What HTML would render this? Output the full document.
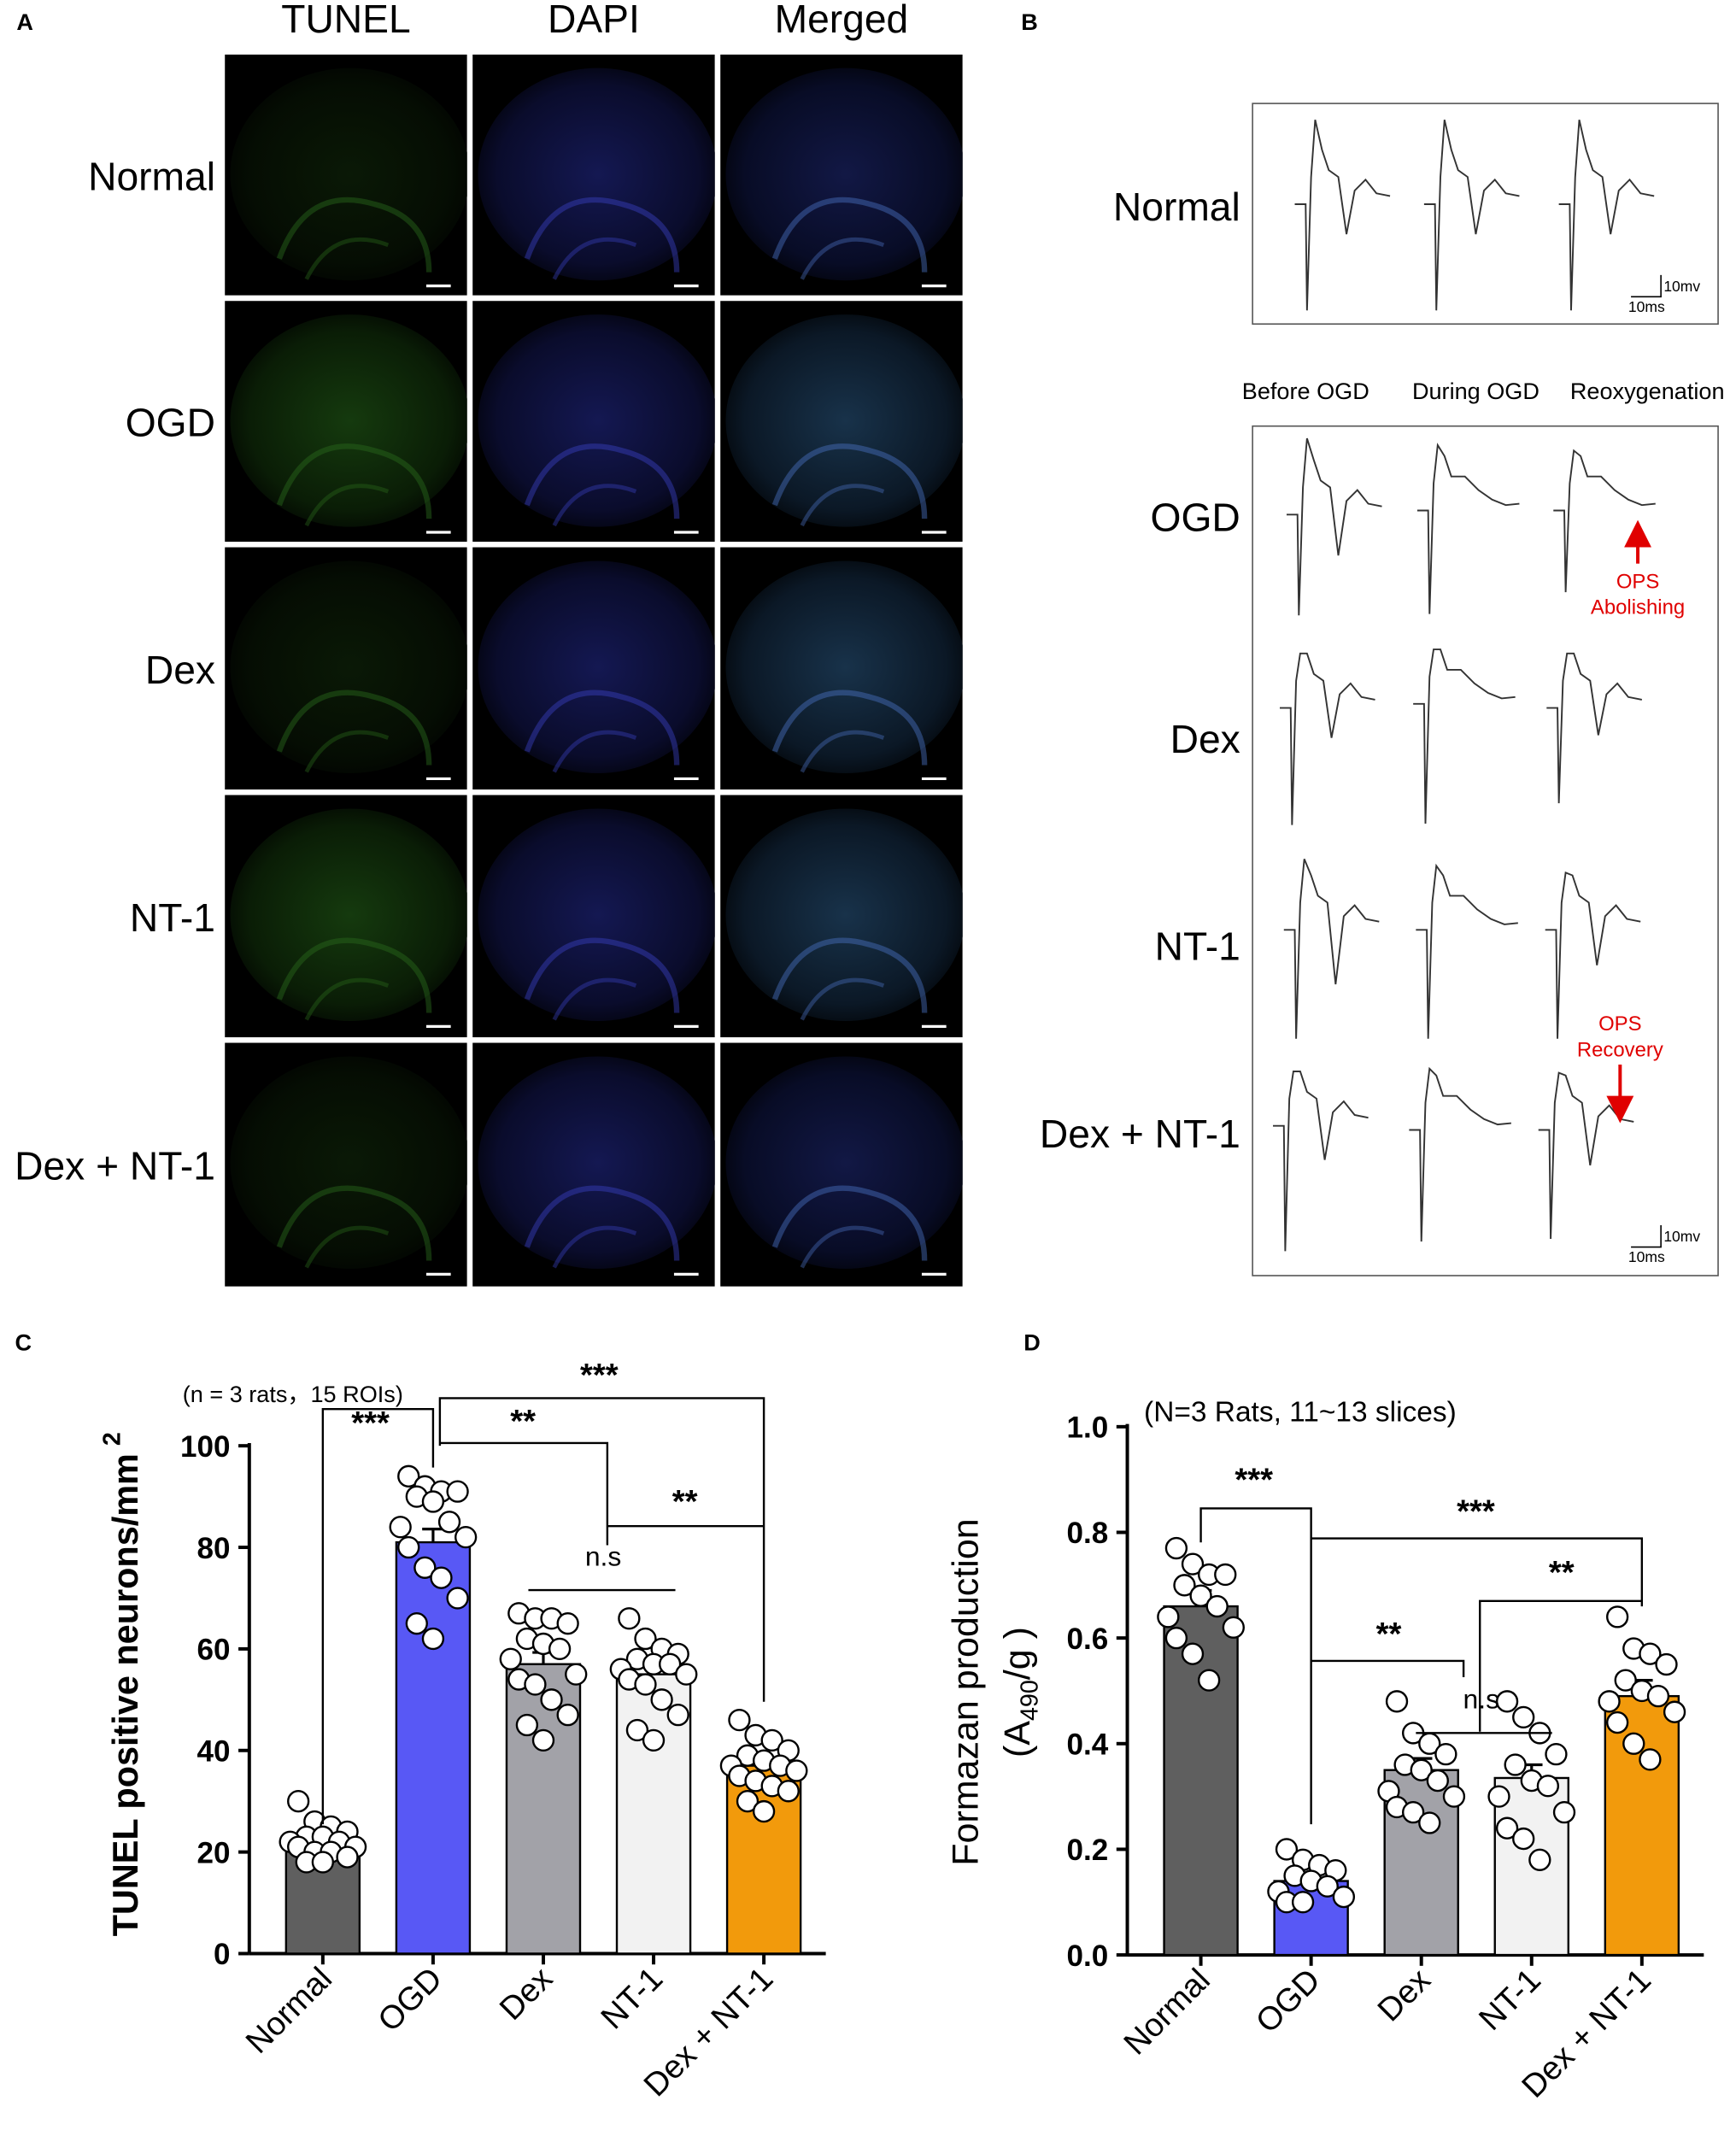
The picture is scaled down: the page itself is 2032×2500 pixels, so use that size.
<!DOCTYPE html>
<html><head><meta charset="utf-8">
<style>
html,body{margin:0;padding:0;background:#fff;}
svg{display:block;}
text{font-family:"Liberation Sans",Arial,sans-serif;}
</style></head>
<body>
<svg id="fig" width="2032" height="2500" viewBox="0 0 1275 1569" xmlns="http://www.w3.org/2000/svg">
<defs>
<radialGradient id="gG" cx="50%" cy="50%" r="60%"><stop offset="0" stop-color="#153a0e"/><stop offset="0.7" stop-color="#0a1d06"/><stop offset="1" stop-color="#000"/></radialGradient>
<radialGradient id="gGd" cx="50%" cy="50%" r="60%"><stop offset="0" stop-color="#0a1906"/><stop offset="0.7" stop-color="#050d03"/><stop offset="1" stop-color="#000"/></radialGradient>
<radialGradient id="gB" cx="50%" cy="50%" r="60%"><stop offset="0" stop-color="#141852"/><stop offset="0.7" stop-color="#0a0c2c"/><stop offset="1" stop-color="#000"/></radialGradient>
<radialGradient id="gM" cx="50%" cy="50%" r="60%"><stop offset="0" stop-color="#18324a"/><stop offset="0.7" stop-color="#0b1826"/><stop offset="1" stop-color="#000"/></radialGradient>
<radialGradient id="gMd" cx="50%" cy="50%" r="60%"><stop offset="0" stop-color="#121845"/><stop offset="0.7" stop-color="#080c26"/><stop offset="1" stop-color="#000"/></radialGradient>
<marker id="arr" markerWidth="8" markerHeight="8" refX="4" refY="4" orient="auto"><path d="M0,0 L8,4 L0,8 z" fill="#e00000"/></marker>
</defs>
<g id="panelA"></g>
<g id="panelB"></g>
<g id="panelC"></g>
<g id="panelD"></g>
</svg>
<script>
// ---------- Data: panel C ----------
const cCategories = ["Normal","OGD","Dex","NT-1","Dex + NT-1"];
const cMeans = [22, 81, 57, 55, 37];
const cErrors = [1.2, 2.6, 2.3, 1.8, 1.6];
const cPointsNormal = [30,26,25,24,23,23,22,22,21,21,20,20,19,18,18];
const cPointsOGD = [94,92,91,91,90,89,85,84,82,80,76,74,70,65,62];
const cPointsDex = [67,66,66,65,62,61,60,58,55,54,53,50,47,45,42];
const cPointsNT1 = [66,62,60,59,58,57,57,56,55,54,53,50,47,44,42];
const cPointsDN = [46,43,42,40,39,38,37,37,36,35,34,33,32,30,28];
const cYTicks = [0,20,40,60,80,100];
// ---------- Data: panel D ----------
const dCategories = ["Normal","OGD","Dex","NT-1","Dex + NT-1"];
const dMeans = [0.66, 0.14, 0.35, 0.335, 0.49];
const dErrors = [0.03, 0.012, 0.022, 0.025, 0.03];
const dPointsNormal = [0.77,0.74,0.72,0.72,0.70,0.68,0.66,0.64,0.62,0.60,0.57,0.52];
const dPointsOGD = [0.20,0.18,0.17,0.16,0.15,0.14,0.13,0.12,0.11,0.10,0.10];
const dPointsDex = [0.48,0.42,0.40,0.38,0.36,0.35,0.33,0.31,0.30,0.28,0.27,0.25];
const dPointsNT1 = [0.48,0.45,0.42,0.38,0.36,0.33,0.32,0.30,0.27,0.24,0.22,0.18];
const dPointsDN = [0.64,0.58,0.57,0.55,0.52,0.50,0.49,0.48,0.46,0.44,0.40,0.37];
const dYTicks = [0.0,0.2,0.4,0.6,0.8,1.0];

const NS="http://www.w3.org/2000/svg";
function mk(parent,tag,attrs,txt){const e=document.createElementNS(NS,tag);for(const k in attrs)e.setAttribute(k,attrs[k]);if(txt!==undefined)e.textContent=txt;parent.appendChild(e);return e;}

// ---------- Panel A ----------
const A=document.getElementById('panelA');
const defs=document.querySelector('defs');
let t=mk(A,'text',{x:12,y:22,'font-size':17,'font-weight':'bold'},'A');


const colX=[165,347,529], colW=178;
const rowY=[40,221,402,584,766], rowH=[177,177,178,178,179];
const colTitles=["TUNEL","DAPI","Merged"];
colTitles.forEach((c,i)=>{const e=mk(A,'text',{x:colX[i]+89,y:24,'font-size':29,'text-anchor':'middle'},c);

});
const rowNames=["Normal","OGD","Dex","NT-1","Dex + NT-1"];
const fills=[["gGd","gB","gMd"],["gG","gB","gM"],["gGd","gB","gM"],["gG","gB","gM"],["gGd","gB","gMd"]];
rowNames.forEach((r,j)=>{
 const e=mk(A,'text',{x:158,y:rowY[j]+rowH[j]/2+11,'font-size':29,'text-anchor':'end'},r);
 
 
 colX.forEach((x,i)=>{
  const cp=mk(defs,'clipPath',{id:'cp'+j+'_'+i});
  mk(cp,'rect',{x:x,y:rowY[j],width:colW,height:rowH[j]});
  const g=mk(A,'g',{'clip-path':'url(#cp'+j+'_'+i+')'});
  
  
  mk(g,'rect',{x:x,y:rowY[j],width:colW,height:rowH[j],fill:'#000'});
  mk(g,'ellipse',{cx:x+92,cy:rowY[j]+88,rx:88,ry:78,fill:'url(#'+fills[j][i]+')'});
  const col=i==0?'#2a6a1c':(i==1?'#3a40c0':'#4a70c0');
  mk(g,'path',{d:`M${x+40},${rowY[j]+150} Q${x+60},${rowY[j]+95} ${x+110},${rowY[j]+110} Q${x+150},${rowY[j]+120} ${x+150},${rowY[j]+160}`,fill:'none',stroke:col,'stroke-width':4,opacity:0.45});
  mk(g,'path',{d:`M${x+60},${rowY[j]+165} Q${x+80},${rowY[j]+125} ${x+120},${rowY[j]+140}`,fill:'none',stroke:col,'stroke-width':3,opacity:0.4});
  mk(g,'line',{x1:x+148,y1:rowY[j]+170,x2:x+166,y2:rowY[j]+170,stroke:'#fff','stroke-width':2});
 });
});

// ---------- Panel B ----------
const B=document.getElementById('panelB');
t=mk(B,'text',{x:750,y:22,'font-size':17,'font-weight':'bold'},'B');


t=mk(B,'rect',{x:920,y:76,width:342,height:162,fill:'none',stroke:'#555','stroke-width':1});


t=mk(B,'rect',{x:920,y:313,width:342,height:624,fill:'none',stroke:'#555','stroke-width':1});


[["Before OGD",959],["During OGD",1084],["Reoxygenation",1210]].forEach((p,i)=>{
 const e=mk(B,'text',{x:p[1],y:293,'font-size':17,'text-anchor':'middle'},p[0]);
 
 });
[["Normal",911,162],["OGD",911,390],["Dex",911,553],["NT-1",911,705],["Dex + NT-1",911,843]].forEach((p,i)=>{
 const e=mk(B,'text',{x:p[1],y:p[2],'font-size':29,'text-anchor':'end'},p[0]);
 
 });
function trace(x0,yb,opts){
 const pop=opts.pop, top=opts.top||60, bot=opts.bot||75;
 let d=`M${x0},${yb} L${x0+8},${yb} L${x0+9},${yb+bot} L${x0+12},${yb-20} L${x0+15},${yb-top} L${x0+20},${yb-40} L${x0+25},${yb-25}`;
 if(pop>0){d+=` L${x0+32},${yb-20} L${x0+38},${yb+pop} L${x0+44},${yb-10} L${x0+52},${yb-18} L${x0+60},${yb-8} L${x0+70},${yb-6}`;}
 else{d+=` L${x0+35},${yb-25} L${x0+45},${yb-15} L${x0+55},${yb-8} L${x0+65},${yb-4} L${x0+75},${yb-5}`;}
 const e=mk(B,'path',{d:d,fill:'none',stroke:'#333','stroke-width':1.2});
 
 
}
[951,1046,1145].forEach(x=>trace(x,150,{pop:22,top:62,bot:78}));
trace(945,378,{pop:30,top:56,bot:74}); trace(1041,375,{pop:0,top:48,bot:76}); trace(1141,375,{pop:0,top:44,bot:60});
trace(940,520,{pop:22,top:40,bot:86}); trace(1038,517,{pop:0,top:40,bot:88}); trace(1136,520,{pop:20,top:40,bot:70});
trace(943,683,{pop:40,top:52,bot:80}); trace(1040,683,{pop:0,top:47,bot:80}); trace(1135,683,{pop:26,top:42,bot:80});
trace(935,827,{pop:25,top:40,bot:92}); trace(1035,830,{pop:0,top:45,bot:82}); trace(1130,830,{pop:26,top:42,bot:80});
function scalebar(y){const g=mk(B,'g',{});
 
 
 mk(g,'path',{d:`M1198,${y} L1220,${y} L1220,${y-16}`,fill:'none',stroke:'#000','stroke-width':1});
 mk(g,'text',{x:1222,y:y-4,'font-size':11},'10mv');
 mk(g,'text',{x:1196,y:y+11,'font-size':11},'10ms');}
scalebar(218); scalebar(916);
t=mk(B,'line',{x1:1203,y1:414,x2:1203,y2:392,stroke:'#e00000','stroke-width':2.5,'marker-end':'url(#arr)'});


t=mk(B,'text',{x:1203,y:432,'font-size':15,fill:'#e00000','text-anchor':'middle'},'OPS');


t=mk(B,'text',{x:1203,y:451,'font-size':15,fill:'#e00000','text-anchor':'middle'},'Abolishing');


t=mk(B,'text',{x:1190,y:757,'font-size':15,fill:'#e00000','text-anchor':'middle'},'OPS');


t=mk(B,'text',{x:1190,y:776,'font-size':15,fill:'#e00000','text-anchor':'middle'},'Recovery');


t=mk(B,'line',{x1:1190,y1:782,x2:1190,y2:815,stroke:'#e00000','stroke-width':2.5,'marker-end':'url(#arr)'});



// ---------- Bar chart helper ----------
const barColors=["#5f5f5f","#5858f5","#a2a2a8","#f2f2f2","#f29a0c"];
function barChart(G,cfg){
 const y=v=>cfg.y0-(v-cfg.min)/(cfg.max-cfg.min)*(cfg.y0-cfg.y1);
 const x=i=>cfg.xs+i*cfg.step;
 let e=mk(G,'line',{x1:cfg.ax,y1:cfg.y1-2,x2:cfg.ax,y2:cfg.y0,stroke:'#000','stroke-width':2.5});
  
 e=mk(G,'line',{x1:cfg.ax,y1:cfg.y0,x2:x(4)+cfg.step/2+5,y2:cfg.y0,stroke:'#000','stroke-width':2.5});
  
 cfg.ticks.forEach(tv=>{
  mk(G,'line',{x1:cfg.ax-8,y1:y(tv),x2:cfg.ax,y2:y(tv),stroke:'#000','stroke-width':2.5});
  const l=mk(G,'text',{x:cfg.ax-14,y:y(tv)+8,'font-size':22,'font-weight':'bold','text-anchor':'end'},cfg.fmt(tv));
   
 });
 cfg.cats.forEach((c,i)=>{
  const b=mk(G,'rect',{x:x(i)-cfg.bw/2,y:y(cfg.means[i]),width:cfg.bw,height:cfg.y0-y(cfg.means[i]),fill:barColors[i],stroke:'#000','stroke-width':1.5});
   
  const top=y(cfg.means[i]+cfg.errs[i]);
  const eb=mk(G,'path',{d:`M${x(i)},${y(cfg.means[i])} L${x(i)},${top} M${x(i)-8},${top} L${x(i)+8},${top}`,stroke:'#000','stroke-width':2,fill:'none'});
   
  mk(G,'line',{x1:x(i),y1:cfg.y0,x2:x(i),y2:cfg.y0+8,stroke:'#000','stroke-width':2.5});
  const lab=mk(G,'text',{x:0,y:0,'font-size':24,'text-anchor':'end',transform:`translate(${x(i)+8},${cfg.y0+20}) rotate(-45)`},c);
   
  const pts=cfg.points[i];
  pts.forEach((v,k)=>{
   const off=[-18,-6,6,18,-12,0,12,-24,24][k%9];
   const p=mk(G,'circle',{cx:x(i)+off,cy:y(v),r:7.5,fill:'#fff',stroke:'#000','stroke-width':1.5});
    
  });
 });
 return {x,y};
}
function bracket(G,d,name){const e=mk(G,'path',{d:d,fill:'none',stroke:'#000','stroke-width':1.5});
  }
function lbl(G,x,y,s,name,size,bold){const e=mk(G,'text',{x:x,y:y,'font-size':size||24,'font-weight':bold===false?'normal':'bold','text-anchor':'middle'},s);
  }

// ---------- Panel C ----------
const C=document.getElementById('panelC');
lbl(C,17,992,'C','panel-c-label',17);
barChart(C,{cats:cCategories,means:cMeans,errs:cErrors,points:[cPointsNormal,cPointsOGD,cPointsDex,cPointsNT1,cPointsDN],
 ticks:cYTicks,min:0,max:100,y0:1435,y1:1062,ax:183,xs:237,step:81,bw:54,fmt:v=>String(v)});
lbl(C,215,1030,'(n = 3 rats，15 ROIs)','sample-size-note',17,false);
t=mk(C,'text',{x:0,y:0,'font-size':26,'font-weight':'bold','text-anchor':'middle',transform:'translate(101,1245) rotate(-90)'},'TUNEL positive neurons/mm');
 
t=mk(C,'text',{x:0,y:0,'font-size':18,'font-weight':'bold',transform:'translate(88,1062) rotate(-90)'},'2');
 
bracket(C,'M237,1340 L237,1035 L318,1035 L318,1078','sig-normal-ogd'); lbl(C,272,1053,'***','sig-label');
bracket(C,'M323,1062 L323,1027 L561,1027 L561,1250','sig-ogd-dexnt1'); lbl(C,440,1018,'***','sig-label');
bracket(C,'M323,1060 L446,1060 L446,1135','sig-ogd-nt1'); lbl(C,384,1052,'**','sig-label');
bracket(C,'M446,1121 L561,1121','sig-nt1-dexnt1'); lbl(C,503,1111,'**','sig-label');
bracket(C,'M388,1168 L496,1168','sig-ns-c'); lbl(C,443,1150,'n.s','ns-label',20,false);

// ---------- Panel D ----------
const D=document.getElementById('panelD');
lbl(D,758,992,'D','panel-d-label',17);
barChart(D,{cats:dCategories,means:dMeans,errs:dErrors,points:[dPointsNormal,dPointsOGD,dPointsDex,dPointsNT1,dPointsDN],
 ticks:dYTicks,min:0,max:1,y0:1436,y1:1048,ax:828,xs:882,step:81,bw:54,fmt:v=>v.toFixed(1)});
lbl(D,955,1044,'(N=3 Rats, 11~13 slices)','sample-size-note-d',21,false);
t=mk(D,'text',{x:0,y:0,'font-size':27,'text-anchor':'middle',transform:'translate(718,1243) rotate(-90)'},'Formazan production');
 
t=mk(D,'text',{x:0,y:0,'font-size':27,'text-anchor':'middle',transform:'translate(756,1243) rotate(-90)'});
 
t.innerHTML='(A<tspan font-size="18" dy="6">490</tspan><tspan dy="-6">/g )</tspan>';
bracket(D,'M882,1133 L882,1108 L963,1108 L963,1340','sig-normal-ogd-d'); lbl(D,921,1095,'***','sig-label');
bracket(D,'M963,1130 L1206,1130 L1206,1180','sig-ogd-dexnt1-d'); lbl(D,1084,1118,'***','sig-label');
bracket(D,'M963,1220 L1075,1220 L1075,1232','sig-ogd-nt1-d'); lbl(D,1020,1208,'**','sig-label');
bracket(D,'M1087,1272 L1087,1176 L1206,1176','sig-nt1-dexnt1-d'); lbl(D,1147,1163,'**','sig-label');
bracket(D,'M1040,1273 L1140,1273','sig-ns-d'); lbl(D,1088,1255,'n.s','ns-label',20,false);
</script>
</body></html>
